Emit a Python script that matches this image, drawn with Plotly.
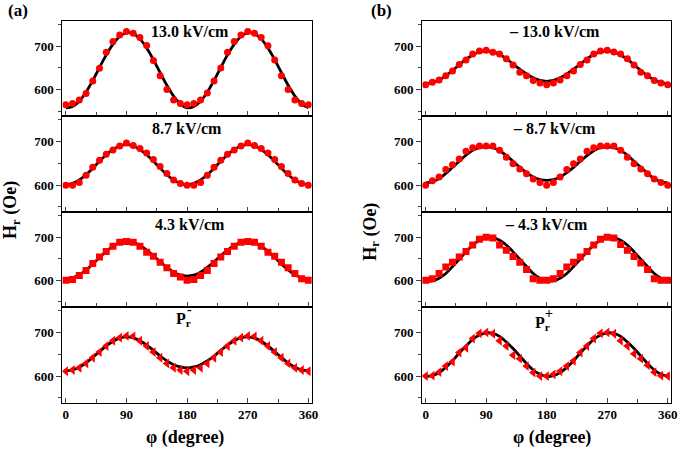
import plotly.graph_objects as go

# angle grid (degree), every 10 deg
phi = list(range(0, 361, 10))

# ---- column (a) ----
a1_pts = [565, 568, 576, 591, 620, 649, 686, 711, 726, 734, 730, 720, 702, 667, 632, 600, 576, 568, 565,
          568, 576, 592, 620, 650, 686, 711, 726, 734, 730, 720, 701, 668, 632, 600, 576, 568, 565]
a1_fit = [558, 561, 573, 594, 621, 651, 680, 705, 723, 731, 729, 717, 696, 669, 639, 610, 585, 567, 558,
          561, 573, 594, 621, 651, 680, 705, 723, 731, 729, 717, 696, 669, 639, 610, 585, 567, 558]
a2_pts = [600, 600, 606, 623, 641, 657, 671, 681, 690, 697, 691, 684, 674, 659, 643, 627, 612, 604, 600,
          600, 606, 623, 641, 657, 671, 681, 690, 697, 691, 684, 674, 659, 643, 627, 612, 604, 600]
a2_fit = [601, 604, 612, 624, 639, 655, 670, 682, 690, 693, 690, 682, 670, 655, 639, 624, 612, 604, 601,
          604, 612, 624, 639, 655, 670, 682, 690, 693, 690, 682, 670, 655, 639, 624, 612, 604, 601]
a3_pts = [600, 602, 611, 623, 639, 654, 667, 679, 688, 690, 688, 679, 665, 656, 642, 629, 616, 608, 600,
          602, 611, 623, 639, 654, 667, 679, 688, 690, 688, 679, 665, 656, 642, 629, 616, 604, 600]
a3_fit = [603, 606, 613, 624, 638, 653, 667, 679, 687, 690, 688, 681, 670, 657, 643, 630, 619, 612, 610,
          612, 619, 630, 643, 657, 670, 681, 688, 690, 687, 679, 667, 653, 638, 624, 613, 606, 603]
a4_pts = [611, 614, 619, 629, 642, 655, 669, 681, 688, 692, 691, 681, 669, 655, 642, 629, 619, 614, 611,
          614, 619, 629, 642, 655, 669, 681, 688, 692, 691, 681, 669, 655, 642, 629, 619, 614, 611]
a4_fit = [612, 614, 620, 630, 643, 656, 669, 680, 687, 690, 688, 681, 671, 659, 646, 635, 626, 621, 619,
          621, 626, 635, 646, 659, 671, 681, 688, 690, 687, 680, 669, 656, 643, 630, 620, 614, 612]

# ---- column (b) ----
b1_pts = [611, 617, 622, 632, 643, 658, 668, 682, 689, 691, 686, 682, 671, 657, 640, 632, 621, 615, 611,
          615, 622, 632, 643, 658, 668, 682, 689, 691, 687, 682, 671, 657, 640, 632, 621, 615, 611]
b1_fit = [613, 616, 622, 632, 644, 657, 670, 680, 687, 689, 687, 681, 671, 659, 647, 636, 627, 621, 619,
          621, 627, 636, 647, 659, 671, 681, 687, 689, 687, 680, 670, 657, 644, 632, 622, 616, 613]
b2_pts = [600, 610, 619, 636, 647, 660, 678, 686, 690, 690, 690, 680, 664, 649, 637, 626, 614, 606, 600,
          606, 619, 636, 649, 660, 678, 686, 690, 690, 690, 680, 664, 649, 637, 626, 614, 606, 600]
b2_fit = [605, 608, 615, 627, 641, 655, 669, 680, 686, 688, 686, 679, 668, 655, 641, 629, 619, 613, 611,
          613, 619, 629, 641, 655, 668, 679, 686, 688, 686, 680, 669, 655, 641, 627, 615, 608, 605]
b3_pts = [600, 604, 616, 631, 642, 654, 667, 682, 695, 700, 698, 682, 670, 655, 642, 625, 604, 600, 600,
          604, 616, 631, 642, 654, 667, 682, 695, 700, 698, 683, 670, 655, 640, 625, 604, 600, 600]
b3_fit = [599, 599, 605, 616, 632, 649, 666, 682, 693, 699, 699, 693, 682, 666, 649, 632, 616, 605, 599,
          599, 605, 616, 632, 649, 666, 682, 693, 699, 699, 693, 682, 666, 649, 632, 616, 605, 599]
b4_pts = [600, 601, 609, 623, 633, 654, 665, 686, 698, 700, 697, 681, 669, 648, 640, 623, 608, 600, 600,
          604, 611, 623, 635, 654, 669, 686, 698, 700, 697, 681, 669, 651, 640, 625, 609, 601, 600]
b4_fit = [599, 601, 608, 620, 635, 653, 669, 684, 694, 699, 698, 691, 678, 663, 646, 629, 614, 604, 599,
          601, 608, 620, 635, 653, 669, 684, 694, 699, 698, 691, 678, 663, 646, 629, 614, 604, 599]

labels_a = ["13.0 kV/cm", "8.7 kV/cm", "4.3 kV/cm", None]
labels_b = ["\u2013 13.0 kV/cm", "\u2013 8.7 kV/cm", "\u2013 4.3 kV/cm", None]
symbols = ["circle", "circle", "square", "triangle-left"]

panels = [
    [(a1_pts, a1_fit), (a2_pts, a2_fit), (a3_pts, a3_fit), (a4_pts, a4_fit)],
    [(b1_pts, b1_fit), (b2_pts, b2_fit), (b3_pts, b3_fit), (b4_pts, b4_fit)],
]

W, H = 685, 449
FONT = "Liberation Serif, Times New Roman, serif"
RED = "#ff0000"


def px_x(x):
    return x / W


def px_y(y):
    return 1 - y / H


col_dom = [[px_x(63), px_x(314.5)], [px_x(426), px_x(677)]]
row_px = [20.7, 116, 211.7, 306.7, 402.7]
row_dom = [[px_y(row_px[i + 1]), px_y(row_px[i])] for i in range(4)]

fig = go.Figure()
layout = {}
for c in range(2):
    for i in range(4):
        k = c * 4 + i + 1
        xs = "" if k == 1 else str(k)
        pts, fit = panels[c][i]
        # fitted curve
        fig.add_trace(go.Scatter(x=phi, y=fit, mode="lines", line=dict(color="black", width=2.8, shape="spline"),
                                 xaxis="x" + xs, yaxis="y" + xs, showlegend=False, hoverinfo="skip"))
        # measured points
        fig.add_trace(go.Scatter(x=phi, y=pts, mode="markers",
                                 marker=dict(symbol=symbols[i], color=RED,
                                             size=7 if symbols[i] != "triangle-left" else 8.5),
                                 xaxis="x" + xs, yaxis="y" + xs, showlegend=False))
        layout["xaxis" + xs] = dict(
            domain=col_dom[c], anchor="y" + xs, range=[-5, 365],
            tickmode="linear", tick0=0, dtick=90, ticks="inside", ticklen=5, tickwidth=1.3,
            minor=dict(dtick=45, tick0=0, ticks="inside", ticklen=4, tickwidth=1.3),
            showticklabels=(i == 3), showline=True, mirror=True, linecolor="black", linewidth=1.3,
            showgrid=False, zeroline=False, ticklabeloverflow="allow",
            tickfont=dict(family=FONT, size=13, color="black", weight="bold"),
        )
        layout["yaxis" + xs] = dict(
            domain=row_dom[i], anchor="x" + xs, range=[539, 759],
            tickmode="linear", tick0=600, dtick=100, ticks="outside", ticklen=5, tickwidth=1.3,
            minor=dict(dtick=50, tick0=550, ticks="outside", ticklen=3, tickwidth=1.3),
            showline=True, mirror=True, linecolor="black", linewidth=1.3,
            showgrid=False, zeroline=False,
            tickfont=dict(family=FONT, size=13, color="black", weight="bold"),
        )

ann = []
bold = dict(family=FONT, size=16, color="black", weight="bold")
for c, labels in enumerate([labels_a, labels_b]):
    xpos = [185, 180, 184, 0] if c == 0 else [191, 191, 180, 0]
    for i, t in enumerate(labels):
        if t is None:
            continue
        k = c * 4 + i + 1
        xs = "" if k == 1 else str(k)
        ann.append(dict(x=xpos[i], y=733 if i == 0 else 730, xref="x" + xs, yref="y" + xs,
                        text=t, showarrow=False, font=bold, xanchor="center", yanchor="middle"))

# P_r^- and P_r^+
sup = dict(family=FONT, size=14, color="black", weight="bold")
ann.append(dict(x=175, y=730, xref="x4", yref="y4", text="P<sub>r</sub>", showarrow=False, font=bold))
ann.append(dict(x=184, y=752, xref="x4", yref="y4", text="-", showarrow=False, font=sup))
ann.append(dict(x=174, y=720, xref="x8", yref="y8", text="P<sub>r</sub>", showarrow=False, font=bold))
ann.append(dict(x=183, y=743, xref="x8", yref="y8", text="+", showarrow=False, font=sup))

big = dict(family=FONT, size=18, color="black", weight="bold")
for xc in [187, 557]:
    ann.append(dict(x=px_x(xc), y=px_y(437), xref="paper", yref="paper", text="\u03c6 (degree)",
                    showarrow=False, font=big, xanchor="center", yanchor="middle"))
for xc, yc in [(11, 210), (374, 232)]:
    ann.append(dict(x=px_x(xc), y=px_y(yc), xref="paper", yref="paper", text="H<sub>r</sub> (Oe)",
                    textangle=-90, showarrow=False, font=big, xanchor="center", yanchor="middle"))
for xc, t in [(18, "(a)"), (385, "(b)")]:
    ann.append(dict(x=px_x(xc), y=px_y(10), xref="paper", yref="paper", text=t,
                    showarrow=False, xanchor="center", yanchor="middle",
                    font=dict(family=FONT, size=17, color="black", weight="bold")))

fig.update_layout(
    width=W, height=H, margin=dict(l=0, r=0, t=0, b=0),
    paper_bgcolor="white", plot_bgcolor="white",
    annotations=ann, **layout,
)

# drop the browser's default 8px body margin so the figure fills the window
fig.write_html("out.html", config=dict(displayModeBar=False),
               post_script="document.body.style.margin='0';")
